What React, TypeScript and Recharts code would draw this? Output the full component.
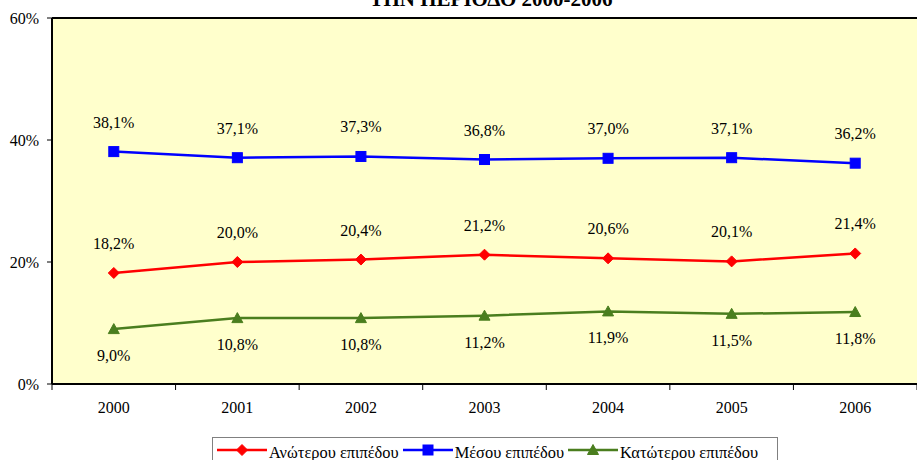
import React from 'react';
import { LineChart, Line, XAxis, YAxis, CartesianGrid, ReferenceLine, LabelList, Legend } from 'recharts';

const categories = ['2000', '2001', '2002', '2003', '2004', '2005', '2006'];
const anoteroy = [18.2, 20.0, 20.4, 21.2, 20.6, 20.1, 21.4];
const mesou = [38.1, 37.1, 37.3, 36.8, 37.0, 37.1, 36.2];
const katoteroy = [9.0, 10.8, 10.8, 11.2, 11.9, 11.5, 11.8];
const yTicks = [0, 20, 40, 60];
const titleText = 'ΤΗΝ ΠΕΡΙΟΔΟ 2000-2006';
const seriesNames = ['Ανώτερου επιπέδου', 'Μέσου επιπέδου', 'Κατώτερου επιπέδου'];

const data = categories.map((c, i) => ({ year: c, anot: anoteroy[i], mes: mesou[i], kat: katoteroy[i] }));

const W = 917;
const H = 460;
const LEFT = 52;
const TOP = 18;
const BAND = (W - LEFT) / categories.length;
const FONT = '"Liberation Serif", "Times New Roman", serif';

const series = [
  { key: 'anot', name: seriesNames[0], color: '#FF0000', shape: 'diamond', above: true },
  { key: 'mes', name: seriesNames[1], color: '#0000FF', shape: 'square', above: true },
  { key: 'kat', name: seriesNames[2], color: '#4A7E1E', shape: 'triangle', above: false },
];

const fmt = (v: number) => v.toFixed(1).replace('.', ',') + '%';

function Marker({ shape, cx, cy, color }: { shape: string; cx: number; cy: number; color: string }) {
  if (shape === 'diamond') {
    return <polygon points={`${cx},${cy - 5.5} ${cx + 5.5},${cy} ${cx},${cy + 5.5} ${cx - 5.5},${cy}`} fill={color} stroke={color} />;
  }
  if (shape === 'square') {
    return <rect x={cx - 5} y={cy - 5} width={10} height={10} fill={color} stroke={color} />;
  }
  return <polygon points={`${cx},${cy - 5.5} ${cx + 5.5},${cy + 4.5} ${cx - 5.5},${cy + 4.5}`} fill={color} stroke={color} />;
}

function XTick(props: any) {
  const { x, y, payload, index } = props;
  const last = index === categories.length - 1;
  return (
    <g>
      <line x1={x - BAND / 2} x2={x - BAND / 2} y1={y} y2={y + 6} stroke="#000" strokeWidth={1} />
      {last && <line x1={x + BAND / 2} x2={x + BAND / 2} y1={y} y2={y + 6} stroke="#000" strokeWidth={1} />}
      <text x={x} y={y + 29} textAnchor="middle" fontFamily={FONT} fontSize={16} fill="#000">
        {payload.value}
      </text>
    </g>
  );
}

function LegendContent() {
  return (
    <div
      style={{
        border: '1px solid #808080',
        display: 'flex',
        alignItems: 'flex-start',
        padding: '5px 0 0 4px',
        fontFamily: FONT,
        fontSize: 16.4,
        background: '#fff',
        boxSizing: 'border-box',
        width: 566,
        height: 30,
      }}
    >
      {series.map((s) => (
        <div key={s.key} style={{ display: 'flex', alignItems: 'flex-start', marginRight: 4 }}>
          <svg width={50} height={14} style={{ marginRight: 2, display: 'block' }}>
            <line x1={0} x2={50} y1={7} y2={7} stroke={s.color} strokeWidth={2.5} />
            <Marker shape={s.shape} cx={25} cy={7} color={s.color} />
          </svg>
          <span style={{ color: '#000', whiteSpace: 'nowrap', lineHeight: '14px', position: 'relative', top: 2.5 }}>
            {s.name}
          </span>
        </div>
      ))}
    </div>
  );
}

export default function App() {
  return (
    <div style={{ position: 'absolute', left: 0, top: 0, width: W, height: H, background: '#fff', overflow: 'hidden' }}>
      <svg width={W} height={30} style={{ position: 'absolute', left: 0, top: 0, zIndex: 2, pointerEvents: 'none' }}>
        <text x={491} y={6} textAnchor="middle" fontFamily={FONT} fontWeight="bold" fontSize={21} fill="#000">
          {titleText}
        </text>
      </svg>
      <LineChart width={W} height={H} data={data} margin={{ top: TOP, right: 0, left: 0, bottom: 0 }}>
        <CartesianGrid horizontal={false} vertical={false} fill="#FFFFCC" stroke="none" />
        <XAxis
          dataKey="year"
          scale="band"
          height={H - 384}
          tickLine={false}
          tickSize={0}
          tickMargin={0}
          axisLine={{ stroke: '#000', strokeWidth: 2 }}
          tick={<XTick />}
          interval={0}
        />
        <YAxis
          width={LEFT}
          domain={[0, 60]}
          ticks={yTicks}
          tickFormatter={(v: number) => `${v}%`}
          tickSize={5}
          tickMargin={8}
          axisLine={{ stroke: '#000', strokeWidth: 2 }}
          tickLine={{ stroke: '#000' }}
          tick={{ fontFamily: FONT, fontSize: 16, fill: '#000' }}
          allowDataOverflow
        />
        <ReferenceLine y={60} stroke="#000" strokeWidth={2} />
        {series.map((s) => (
          <Line
            key={s.key}
            dataKey={s.key}
            name={s.name}
            stroke={s.color}
            strokeWidth={2.5}
            isAnimationActive={false}
            dot={(p: any) => <Marker key={`${s.key}-${p.index}`} shape={s.shape} cx={p.cx} cy={p.cy} color={s.color} />}
            activeDot={false}
          >
            <LabelList
              dataKey={s.key}
              content={(p: any) => (
                <text
                  x={p.x}
                  y={s.above ? p.y - 24 : p.y + 32}
                  textAnchor="middle"
                  fontFamily={FONT}
                  fontSize={16}
                  fill="#000"
                >
                  {fmt(Number(p.value))}
                </text>
              )}
            />
          </Line>
        ))}
        <Legend
          layout="horizontal"
          verticalAlign="middle"
          align="center"
          content={<LegendContent />}
          wrapperStyle={{ position: 'absolute', left: 212, top: 437, width: 566, height: 30 }}
        />
      </LineChart>
    </div>
  );
}
